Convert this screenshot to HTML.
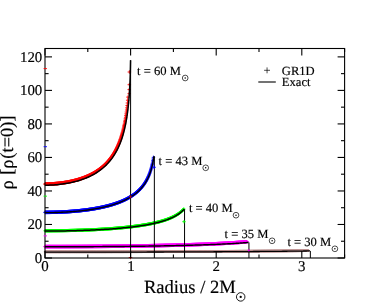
<!DOCTYPE html>
<html><head><meta charset="utf-8"><title>plot</title>
<style>
html,body{margin:0;padding:0;background:#fff;}
svg{display:block;will-change:transform;opacity:0.999}
text{font-family:"Liberation Serif",serif;fill:#000;text-rendering:geometricPrecision;stroke:#000;stroke-width:0.16px}
</style></head><body>
<svg width="387" height="303" viewBox="0 0 387 303">
<rect width="387" height="303" fill="#fff"/>
<g>
<defs><marker id="m60" markerUnits="userSpaceOnUse" markerWidth="5.5" markerHeight="5.5" refX="0" refY="0" viewBox="-2.75 -2.75 5.5 5.5" overflow="visible"><path d="M-1.75,0H1.75M0,-1.75V1.75" stroke="#ff0000" stroke-width="0.9" fill="none"/></marker><marker id="m43" markerUnits="userSpaceOnUse" markerWidth="5.4" markerHeight="5.4" refX="0" refY="0" viewBox="-2.7 -2.7 5.4 5.4" overflow="visible"><path d="M-1.7,0H1.7M0,-1.7V1.7" stroke="#0000ff" stroke-width="0.9" fill="none"/></marker><marker id="m40" markerUnits="userSpaceOnUse" markerWidth="5.1" markerHeight="5.1" refX="0" refY="0" viewBox="-2.55 -2.55 5.1 5.1" overflow="visible"><path d="M-1.55,0H1.55M0,-1.55V1.55" stroke="#00ff00" stroke-width="0.9" fill="none"/></marker><marker id="m35" markerUnits="userSpaceOnUse" markerWidth="5.5" markerHeight="5.5" refX="0" refY="0" viewBox="-2.75 -2.75 5.5 5.5" overflow="visible"><path d="M-1.75,0H1.75M0,-1.75V1.75" stroke="#ff00ff" stroke-width="0.9" fill="none"/></marker><marker id="m30" markerUnits="userSpaceOnUse" markerWidth="4.7" markerHeight="4.7" refX="0" refY="0" viewBox="-2.35 -2.35 4.7 4.7" overflow="visible"><path d="M-1.35,0H1.35M0,-1.35V1.35" stroke="#bc8f8f" stroke-width="0.9" fill="none"/></marker></defs>
<polyline points="45.13,184.05 45.38,184.05 45.64,184.05 45.89,184.04 46.15,184.04 46.40,184.04 46.65,184.04 46.91,184.03 47.16,184.03 47.42,184.03 47.67,184.02 47.93,184.02 48.18,184.01 48.44,184.00 48.69,184.00 48.95,183.99 49.20,183.98 49.46,183.97 49.71,183.96 49.96,183.96 50.22,183.95 50.47,183.94 50.73,183.92 50.98,183.91 51.24,183.90 51.49,183.89 51.75,183.88 52.00,183.86 52.26,183.85 52.51,183.84 52.77,183.82 53.02,183.81 53.27,183.79 53.53,183.77 53.78,183.76 54.04,183.74 54.29,183.72 54.55,183.70 54.80,183.69 55.06,183.67 55.31,183.65 55.57,183.63 55.82,183.61 56.07,183.58 56.33,183.56 56.58,183.54 56.84,183.52 57.09,183.49 57.35,183.47 57.60,183.45 57.86,183.42 58.11,183.40 58.36,183.37 58.62,183.34 58.87,183.32 59.13,183.29 59.38,183.26 59.64,183.23 59.89,183.20 60.15,183.17 60.40,183.14 60.65,183.11 60.91,183.08 61.16,183.05 61.42,183.02 61.67,182.98 61.93,182.95 62.18,182.92 62.43,182.88 62.69,182.85 62.94,182.81 63.20,182.78 63.45,182.74 63.71,182.70 63.96,182.66 64.21,182.63 64.47,182.59 64.72,182.55 64.98,182.51 65.23,182.47 65.49,182.42 65.74,182.38 65.99,182.34 66.25,182.30 66.50,182.25 66.76,182.21 67.01,182.16 67.27,182.12 67.52,182.07 67.77,182.02 68.03,181.98 68.28,181.93 68.54,181.88 68.79,181.83 69.04,181.78 69.30,181.73 69.55,181.68 69.81,181.63 70.06,181.57 70.31,181.52 70.57,181.47 70.82,181.41 71.08,181.36 71.33,181.30 71.58,181.25 71.84,181.19 72.09,181.13 72.35,181.07 72.60,181.01 72.85,180.95 73.11,180.89 73.36,180.83 73.62,180.77 73.87,180.71 74.12,180.64 74.38,180.58 74.63,180.51 74.88,180.45 75.14,180.38 75.39,180.32 75.65,180.25 75.90,180.18 76.15,180.11 76.41,180.04 76.66,179.97 76.91,179.90 77.17,179.83 77.42,179.75 77.68,179.68 77.93,179.60 78.18,179.53 78.44,179.45 78.69,179.37 78.94,179.30 79.20,179.22 79.45,179.14 79.70,179.06 79.96,178.98 80.21,178.89 80.46,178.81 80.72,178.73 80.97,178.64 81.22,178.56 81.48,178.47 81.73,178.38 81.98,178.29 82.24,178.20 82.49,178.11 82.74,178.02 83.00,177.93 83.25,177.84 83.50,177.74 83.76,177.65 84.01,177.55 84.26,177.45 84.51,177.35 84.77,177.26 85.02,177.16 85.27,177.05 85.53,176.95 85.78,176.85 86.03,176.74 86.29,176.64 86.54,176.53 86.79,176.42 87.04,176.32 87.30,176.21 87.55,176.09 87.80,175.98 88.05,175.87 88.31,175.75 88.56,175.64 88.81,175.52 89.07,175.40 89.32,175.28 89.57,175.16 89.82,175.04 90.08,174.92 90.33,174.79 90.58,174.67 90.83,174.54 91.09,174.41 91.34,174.28 91.59,174.15 91.84,174.02 92.10,173.89 92.35,173.75 92.60,173.61 92.85,173.48 93.10,173.34 93.36,173.20 93.61,173.05 93.86,172.91 94.11,172.76 94.37,172.62 94.62,172.47 94.87,172.32 95.12,172.16 95.37,172.01 95.63,171.85 95.88,171.70 96.13,171.54 96.38,171.38 96.63,171.21 96.88,171.05 97.14,170.88 97.39,170.72 97.64,170.55 97.89,170.37 98.14,170.20 98.40,170.03 98.65,169.85 98.90,169.67 99.15,169.49 99.40,169.30 99.65,169.12 99.91,168.93 100.16,168.74 100.41,168.54 100.66,168.35 100.91,168.15 101.16,167.95 101.42,167.75 101.67,167.55 101.92,167.34 102.17,167.13 102.42,166.92 102.67,166.70 102.92,166.48 103.18,166.26 103.43,166.04 103.68,165.82 103.93,165.59 104.18,165.36 104.43,165.12 104.68,164.88 104.94,164.64 105.19,164.40 105.44,164.15 105.69,163.90 105.94,163.65 106.19,163.39 106.44,163.13 106.69,162.87 106.95,162.60 107.20,162.33 107.45,162.05 107.70,161.77 107.95,161.49 108.20,161.20 108.45,160.91 108.71,160.61 108.96,160.31 109.21,160.01 109.46,159.70 109.71,159.39 109.96,159.07 110.22,158.74 110.47,158.42 110.72,158.08 110.97,157.74 111.22,157.40 111.47,157.05 111.73,156.69 111.98,156.33 112.23,155.96 112.48,155.59 112.73,155.21 112.98,154.82 113.24,154.43 113.49,154.03 113.74,153.62 113.99,153.20 114.24,152.78 114.50,152.35 114.75,151.91 115.00,151.46 115.25,151.01 115.51,150.54 115.76,150.07 116.01,149.58 116.26,149.09 116.52,148.58 116.77,148.07 117.02,147.54 117.27,147.01 117.53,146.46 117.78,145.90 118.03,145.32 118.29,144.74 118.54,144.13 118.79,143.52 119.04,142.89 119.30,142.24 119.55,141.58 119.81,140.90 120.06,140.20 120.31,139.48 120.57,138.74 120.82,137.99 121.07,137.21 121.33,136.40 121.58,135.57 121.84,134.72 122.09,133.84 122.34,132.93 122.60,131.99 122.85,131.01 123.11,130.00 123.36,128.96 123.62,127.87 123.87,126.74 124.12,125.56 124.38,124.33 124.63,123.05 124.89,121.71 125.14,120.30 125.40,118.82 125.66,117.25 125.91,115.60 126.17,113.85 126.42,111.98 126.68,109.99 126.93,107.84 127.19,105.52 127.44,102.99 127.70,100.21 127.96,97.11 129.20,93.70 129.25,89.60 129.30,84.70 129.35,72.00 130.50,196.80 130.50,257.50" fill="none" stroke="none" marker-start="url(#m60)" marker-mid="url(#m60)" marker-end="url(#m60)"/>
<polyline points="45.13,212.38 45.38,212.38 45.64,212.38 45.90,212.38 46.15,212.37 46.41,212.37 46.67,212.37 46.92,212.37 47.18,212.37 47.44,212.37 47.69,212.37 47.95,212.36 48.21,212.36 48.46,212.36 48.72,212.36 48.98,212.36 49.23,212.35 49.49,212.35 49.75,212.35 50.00,212.34 50.26,212.34 50.52,212.34 50.77,212.33 51.03,212.33 51.29,212.32 51.54,212.32 51.80,212.31 52.06,212.31 52.31,212.30 52.57,212.30 52.83,212.29 53.08,212.29 53.34,212.28 53.60,212.28 53.85,212.27 54.11,212.26 54.37,212.26 54.62,212.25 54.88,212.25 55.14,212.24 55.39,212.23 55.65,212.22 55.91,212.22 56.16,212.21 56.42,212.20 56.67,212.19 56.93,212.18 57.19,212.18 57.44,212.17 57.70,212.16 57.96,212.15 58.21,212.14 58.47,212.13 58.73,212.12 58.98,212.11 59.24,212.10 59.50,212.09 59.75,212.08 60.01,212.07 60.27,212.06 60.52,212.05 60.78,212.04 61.04,212.03 61.29,212.02 61.55,212.00 61.81,211.99 62.06,211.98 62.32,211.97 62.58,211.96 62.83,211.94 63.09,211.93 63.35,211.92 63.60,211.91 63.86,211.89 64.12,211.88 64.37,211.86 64.63,211.85 64.89,211.84 65.14,211.82 65.40,211.81 65.66,211.79 65.91,211.78 66.17,211.76 66.42,211.75 66.68,211.73 66.94,211.72 67.19,211.70 67.45,211.68 67.71,211.67 67.96,211.65 68.22,211.64 68.48,211.62 68.73,211.60 68.99,211.58 69.25,211.57 69.50,211.55 69.76,211.53 70.02,211.51 70.27,211.49 70.53,211.48 70.79,211.46 71.04,211.44 71.30,211.42 71.56,211.40 71.81,211.38 72.07,211.36 72.33,211.34 72.58,211.32 72.84,211.30 73.10,211.28 73.35,211.26 73.61,211.24 73.86,211.21 74.12,211.19 74.38,211.17 74.63,211.15 74.89,211.13 75.15,211.10 75.40,211.08 75.66,211.06 75.92,211.04 76.17,211.01 76.43,210.99 76.69,210.96 76.94,210.94 77.20,210.92 77.46,210.89 77.71,210.87 77.97,210.84 78.23,210.82 78.48,210.79 78.74,210.76 79.00,210.74 79.25,210.71 79.51,210.69 79.77,210.66 80.02,210.63 80.28,210.60 80.53,210.58 80.79,210.55 81.05,210.52 81.30,210.49 81.56,210.46 81.82,210.44 82.07,210.41 82.33,210.38 82.59,210.35 82.84,210.32 83.10,210.29 83.36,210.26 83.61,210.23 83.87,210.20 84.13,210.16 84.38,210.13 84.64,210.10 84.90,210.07 85.15,210.04 85.41,210.01 85.66,209.97 85.92,209.94 86.18,209.91 86.43,209.87 86.69,209.84 86.95,209.80 87.20,209.77 87.46,209.73 87.72,209.70 87.97,209.66 88.23,209.63 88.49,209.59 88.74,209.56 89.00,209.52 89.26,209.48 89.51,209.45 89.77,209.41 90.02,209.37 90.28,209.33 90.54,209.29 90.79,209.25 91.05,209.22 91.31,209.18 91.56,209.14 91.82,209.10 92.08,209.06 92.33,209.02 92.59,208.97 92.85,208.93 93.10,208.89 93.36,208.85 93.61,208.81 93.87,208.76 94.13,208.72 94.38,208.68 94.64,208.63 94.90,208.59 95.15,208.54 95.41,208.50 95.67,208.45 95.92,208.41 96.18,208.36 96.43,208.32 96.69,208.27 96.95,208.22 97.20,208.18 97.46,208.13 97.72,208.08 97.97,208.03 98.23,207.98 98.49,207.93 98.74,207.88 99.00,207.83 99.25,207.78 99.51,207.73 99.77,207.68 100.02,207.63 100.28,207.58 100.54,207.52 100.79,207.47 101.05,207.42 101.31,207.36 101.56,207.31 101.82,207.25 102.07,207.20 102.33,207.14 102.59,207.09 102.84,207.03 103.10,206.97 103.36,206.91 103.61,206.86 103.87,206.80 104.12,206.74 104.38,206.68 104.64,206.62 104.89,206.56 105.15,206.50 105.41,206.44 105.66,206.37 105.92,206.31 106.17,206.25 106.43,206.19 106.69,206.12 106.94,206.06 107.20,205.99 107.46,205.93 107.71,205.86 107.97,205.79 108.22,205.73 108.48,205.66 108.74,205.59 108.99,205.52 109.25,205.45 109.51,205.38 109.76,205.31 110.02,205.24 110.27,205.17 110.53,205.09 110.79,205.02 111.04,204.95 111.30,204.87 111.55,204.80 111.81,204.72 112.07,204.65 112.32,204.57 112.58,204.49 112.84,204.41 113.09,204.33 113.35,204.25 113.60,204.17 113.86,204.09 114.12,204.01 114.37,203.93 114.63,203.84 114.88,203.76 115.14,203.68 115.40,203.59 115.65,203.50 115.91,203.42 116.16,203.33 116.42,203.24 116.68,203.15 116.93,203.06 117.19,202.97 117.44,202.88 117.70,202.78 117.96,202.69 118.21,202.60 118.47,202.50 118.72,202.40 118.98,202.31 119.24,202.21 119.49,202.11 119.75,202.01 120.00,201.91 120.26,201.81 120.52,201.70 120.77,201.60 121.03,201.50 121.28,201.39 121.54,201.28 121.79,201.17 122.05,201.07 122.31,200.96 122.56,200.84 122.82,200.73 123.07,200.62 123.33,200.50 123.58,200.39 123.84,200.27 124.10,200.15 124.35,200.03 124.61,199.91 124.86,199.79 125.12,199.67 125.37,199.54 125.63,199.42 125.89,199.29 126.14,199.16 126.40,199.03 126.65,198.90 126.91,198.77 127.16,198.63 127.42,198.50 127.68,198.36 127.93,198.22 128.19,198.08 128.44,197.94 128.70,197.79 128.95,197.65 129.21,197.50 129.46,197.35 129.72,197.20 129.97,197.05 130.23,196.90 130.49,196.74 130.74,196.58 131.00,196.42 131.25,196.26 131.51,196.10 131.76,195.93 132.02,195.76 132.27,195.59 132.53,195.42 132.78,195.25 133.04,195.07 133.29,194.89 133.55,194.71 133.81,194.53 134.06,194.34 134.32,194.15 134.57,193.96 134.83,193.77 135.08,193.57 135.34,193.37 135.59,193.17 135.85,192.97 136.10,192.76 136.36,192.55 136.61,192.33 136.87,192.12 137.12,191.89 137.38,191.67 137.63,191.44 137.89,191.21 138.14,190.98 138.40,190.74 138.65,190.50 138.91,190.25 139.16,190.00 139.42,189.75 139.67,189.49 139.93,189.22 140.18,188.96 140.44,188.68 140.69,188.41 140.95,188.12 141.20,187.83 141.46,187.54 141.71,187.24 141.97,186.94 142.22,186.63 142.48,186.31 142.73,185.99 142.99,185.66 143.24,185.32 143.50,184.98 143.75,184.62 144.01,184.27 144.26,183.90 144.52,183.52 144.77,183.14 145.03,182.74 145.28,182.34 145.54,181.93 145.79,181.50 146.05,181.07 146.30,180.62 146.56,180.16 146.81,179.69 147.07,179.20 147.32,178.71 147.58,178.19 147.83,177.66 148.09,177.11 148.34,176.54 148.60,175.96 148.86,175.35 149.11,174.72 149.37,174.07 149.62,173.39 149.88,172.69 150.13,171.95 150.39,171.18 150.64,170.38 150.90,169.53 151.15,168.64 151.41,167.70 151.67,166.71 151.92,165.66 152.18,164.53 152.43,163.32 152.69,162.02 152.95,160.60 153.20,159.05 153.46,157.32" fill="none" stroke="none" marker-start="url(#m43)" marker-mid="url(#m43)" marker-end="url(#m43)"/>
<polyline points="45.13,230.76 45.39,230.76 45.64,230.76 45.90,230.76 46.16,230.76 46.41,230.76 46.67,230.76 46.93,230.76 47.18,230.76 47.44,230.76 47.70,230.76 47.95,230.76 48.21,230.76 48.47,230.76 48.72,230.76 48.98,230.76 49.24,230.76 49.49,230.76 49.75,230.75 50.01,230.75 50.26,230.75 50.52,230.75 50.78,230.75 51.03,230.75 51.29,230.75 51.55,230.75 51.80,230.74 52.06,230.74 52.32,230.74 52.57,230.74 52.83,230.74 53.09,230.74 53.34,230.73 53.60,230.73 53.86,230.73 54.11,230.73 54.37,230.73 54.63,230.72 54.88,230.72 55.14,230.72 55.40,230.72 55.65,230.72 55.91,230.71 56.17,230.71 56.42,230.71 56.68,230.71 56.94,230.70 57.19,230.70 57.45,230.70 57.71,230.69 57.97,230.69 58.22,230.69 58.48,230.69 58.74,230.68 58.99,230.68 59.25,230.68 59.51,230.67 59.76,230.67 60.02,230.67 60.28,230.66 60.53,230.66 60.79,230.66 61.05,230.65 61.30,230.65 61.56,230.65 61.82,230.64 62.07,230.64 62.33,230.63 62.59,230.63 62.84,230.63 63.10,230.62 63.36,230.62 63.61,230.61 63.87,230.61 64.13,230.61 64.38,230.60 64.64,230.60 64.90,230.59 65.15,230.59 65.41,230.58 65.67,230.58 65.92,230.57 66.18,230.57 66.44,230.57 66.69,230.56 66.95,230.56 67.21,230.55 67.46,230.55 67.72,230.54 67.98,230.54 68.23,230.53 68.49,230.52 68.75,230.52 69.00,230.51 69.26,230.51 69.52,230.50 69.77,230.50 70.03,230.49 70.29,230.49 70.54,230.48 70.80,230.47 71.06,230.47 71.31,230.46 71.57,230.46 71.83,230.45 72.09,230.44 72.34,230.44 72.60,230.43 72.86,230.43 73.11,230.42 73.37,230.41 73.63,230.41 73.88,230.40 74.14,230.39 74.40,230.39 74.65,230.38 74.91,230.37 75.17,230.37 75.42,230.36 75.68,230.35 75.94,230.34 76.19,230.34 76.45,230.33 76.71,230.32 76.96,230.31 77.22,230.31 77.48,230.30 77.73,230.29 77.99,230.28 78.25,230.28 78.50,230.27 78.76,230.26 79.02,230.25 79.27,230.25 79.53,230.24 79.79,230.23 80.04,230.22 80.30,230.21 80.56,230.20 80.81,230.20 81.07,230.19 81.33,230.18 81.58,230.17 81.84,230.16 82.10,230.15 82.35,230.14 82.61,230.14 82.87,230.13 83.12,230.12 83.38,230.11 83.64,230.10 83.89,230.09 84.15,230.08 84.41,230.07 84.66,230.06 84.92,230.05 85.18,230.04 85.43,230.03 85.69,230.02 85.95,230.01 86.20,230.00 86.46,229.99 86.72,229.98 86.97,229.97 87.23,229.96 87.49,229.95 87.75,229.94 88.00,229.93 88.26,229.92 88.52,229.91 88.77,229.90 89.03,229.89 89.29,229.88 89.54,229.87 89.80,229.86 90.06,229.85 90.31,229.83 90.57,229.82 90.83,229.81 91.08,229.80 91.34,229.79 91.60,229.78 91.85,229.77 92.11,229.75 92.37,229.74 92.62,229.73 92.88,229.72 93.14,229.71 93.39,229.69 93.65,229.68 93.91,229.67 94.16,229.66 94.42,229.65 94.68,229.63 94.93,229.62 95.19,229.61 95.45,229.60 95.70,229.58 95.96,229.57 96.22,229.56 96.47,229.54 96.73,229.53 96.99,229.52 97.24,229.50 97.50,229.49 97.76,229.48 98.01,229.46 98.27,229.45 98.53,229.44 98.78,229.42 99.04,229.41 99.30,229.39 99.55,229.38 99.81,229.37 100.07,229.35 100.32,229.34 100.58,229.32 100.84,229.31 101.09,229.29 101.35,229.28 101.61,229.26 101.86,229.25 102.12,229.23 102.38,229.22 102.63,229.20 102.89,229.19 103.15,229.17 103.40,229.16 103.66,229.14 103.92,229.13 104.17,229.11 104.43,229.09 104.69,229.08 104.94,229.06 105.20,229.05 105.46,229.03 105.71,229.01 105.97,229.00 106.23,228.98 106.48,228.96 106.74,228.95 107.00,228.93 107.25,228.91 107.51,228.89 107.77,228.88 108.02,228.86 108.28,228.84 108.54,228.82 108.79,228.81 109.05,228.79 109.31,228.77 109.56,228.75 109.82,228.74 110.08,228.72 110.33,228.70 110.59,228.68 110.85,228.66 111.10,228.64 111.36,228.62 111.62,228.61 111.87,228.59 112.13,228.57 112.39,228.55 112.64,228.53 112.90,228.51 113.16,228.49 113.41,228.47 113.67,228.45 113.93,228.43 114.18,228.41 114.44,228.39 114.70,228.37 114.95,228.35 115.21,228.33 115.47,228.31 115.72,228.29 115.98,228.27 116.24,228.24 116.49,228.22 116.75,228.20 117.01,228.18 117.26,228.16 117.52,228.14 117.78,228.12 118.03,228.09 118.29,228.07 118.55,228.05 118.80,228.03 119.06,228.00 119.32,227.98 119.57,227.96 119.83,227.94 120.09,227.91 120.34,227.89 120.60,227.87 120.86,227.84 121.11,227.82 121.37,227.80 121.63,227.77 121.88,227.75 122.14,227.72 122.40,227.70 122.65,227.67 122.91,227.65 123.17,227.62 123.42,227.60 123.68,227.57 123.94,227.55 124.19,227.52 124.45,227.50 124.71,227.47 124.96,227.45 125.22,227.42 125.48,227.39 125.73,227.37 125.99,227.34 126.25,227.31 126.50,227.29 126.76,227.26 127.02,227.23 127.27,227.21 127.53,227.18 127.79,227.15 128.04,227.12 128.30,227.09 128.56,227.07 128.81,227.04 129.07,227.01 129.33,226.98 129.58,226.95 129.84,226.92 130.09,226.89 130.35,226.86 130.61,226.83 130.86,226.80 131.12,226.77 131.38,226.74 131.63,226.71 131.89,226.68 132.15,226.65 132.40,226.62 132.66,226.59 132.92,226.56 133.17,226.53 133.43,226.49 133.69,226.46 133.94,226.43 134.20,226.40 134.46,226.36 134.71,226.33 134.97,226.30 135.23,226.26 135.48,226.23 135.74,226.20 136.00,226.16 136.25,226.13 136.51,226.09 136.77,226.06 137.02,226.02 137.28,225.99 137.54,225.95 137.79,225.92 138.05,225.88 138.30,225.85 138.56,225.81 138.82,225.77 139.07,225.74 139.33,225.70 139.59,225.66 139.84,225.62 140.10,225.59 140.36,225.55 140.61,225.51 140.87,225.47 141.13,225.43 141.38,225.39 141.64,225.35 141.90,225.31 142.15,225.27 142.41,225.23 142.67,225.19 142.92,225.15 143.18,225.11 143.43,225.07 143.69,225.03 143.95,224.99 144.20,224.94 144.46,224.90 144.72,224.86 144.97,224.81 145.23,224.77 145.49,224.73 145.74,224.68 146.00,224.64 146.26,224.59 146.51,224.55 146.77,224.50 147.02,224.46 147.28,224.41 147.54,224.36 147.79,224.32 148.05,224.27 148.31,224.22 148.56,224.17 148.82,224.13 149.08,224.08 149.33,224.03 149.59,223.98 149.85,223.93 150.10,223.88 150.36,223.83 150.61,223.78 150.87,223.73 151.13,223.67 151.38,223.62 151.64,223.57 151.90,223.52 152.15,223.46 152.41,223.41 152.67,223.35 152.92,223.30 153.18,223.24 153.43,223.19 153.69,223.13 153.95,223.07 154.20,223.02 154.46,222.96 154.72,222.90 154.97,222.84 155.23,222.78 155.48,222.72 155.74,222.66 156.00,222.60 156.25,222.54 156.51,222.48 156.77,222.42 157.02,222.36 157.28,222.29 157.53,222.23 157.79,222.17 158.05,222.10 158.30,222.03 158.56,221.97 158.81,221.90 159.07,221.83 159.33,221.77 159.58,221.70 159.84,221.63 160.10,221.56 160.35,221.49 160.61,221.42 160.86,221.35 161.12,221.27 161.38,221.20 161.63,221.13 161.89,221.05 162.14,220.98 162.40,220.90 162.66,220.82 162.91,220.74 163.17,220.67 163.42,220.59 163.68,220.51 163.94,220.43 164.19,220.34 164.45,220.26 164.70,220.18 164.96,220.09 165.22,220.01 165.47,219.92 165.73,219.83 165.98,219.75 166.24,219.66 166.49,219.57 166.75,219.48 167.01,219.38 167.26,219.29 167.52,219.20 167.77,219.10 168.03,219.01 168.29,218.91 168.54,218.81 168.80,218.71 169.05,218.61 169.31,218.51 169.56,218.40 169.82,218.30 170.07,218.19 170.33,218.09 170.59,217.98 170.84,217.87 171.10,217.75 171.35,217.64 171.61,217.53 171.86,217.41 172.12,217.29 172.37,217.17 172.63,217.05 172.88,216.93 173.14,216.81 173.39,216.68 173.65,216.55 173.91,216.42 174.16,216.29 174.42,216.16 174.67,216.02 174.93,215.89 175.18,215.75 175.44,215.60 175.69,215.46 175.95,215.31 176.20,215.16 176.46,215.01 176.71,214.86 176.97,214.70 177.22,214.54 177.48,214.38 177.73,214.22 177.98,214.05 178.24,213.88 178.49,213.70 178.75,213.53 179.00,213.34 179.26,213.16 179.51,212.97 179.77,212.78 180.02,212.58 180.28,212.38 180.53,212.18 180.78,211.97 181.04,211.76 181.29,211.54 181.55,211.32 181.80,211.09 182.05,210.85 182.31,210.61 182.56,210.37 182.82,210.11 183.07,209.85 183.32,209.59 183.58,209.31 183.83,209.03" fill="none" stroke="none" marker-start="url(#m40)" marker-mid="url(#m40)" marker-end="url(#m40)"/>
<polyline points="45.13,246.60 45.39,246.60 45.64,246.60 45.90,246.60 46.16,246.60 46.41,246.60 46.67,246.60 46.93,246.60 47.18,246.60 47.44,246.60 47.70,246.60 47.95,246.60 48.21,246.60 48.47,246.60 48.72,246.60 48.98,246.59 49.24,246.59 49.49,246.59 49.75,246.59 50.01,246.59 50.26,246.59 50.52,246.59 50.78,246.59 51.03,246.59 51.29,246.59 51.55,246.59 51.81,246.59 52.06,246.59 52.32,246.59 52.58,246.59 52.83,246.59 53.09,246.59 53.35,246.59 53.60,246.59 53.86,246.59 54.12,246.59 54.37,246.59 54.63,246.59 54.89,246.59 55.14,246.59 55.40,246.59 55.66,246.59 55.91,246.59 56.17,246.59 56.43,246.59 56.68,246.59 56.94,246.59 57.20,246.59 57.45,246.58 57.71,246.58 57.97,246.58 58.22,246.58 58.48,246.58 58.74,246.58 59.00,246.58 59.25,246.58 59.51,246.58 59.77,246.58 60.02,246.58 60.28,246.58 60.54,246.58 60.79,246.58 61.05,246.58 61.31,246.58 61.56,246.58 61.82,246.58 62.08,246.58 62.33,246.57 62.59,246.57 62.85,246.57 63.10,246.57 63.36,246.57 63.62,246.57 63.87,246.57 64.13,246.57 64.39,246.57 64.64,246.57 64.90,246.57 65.16,246.57 65.42,246.57 65.67,246.57 65.93,246.56 66.19,246.56 66.44,246.56 66.70,246.56 66.96,246.56 67.21,246.56 67.47,246.56 67.73,246.56 67.98,246.56 68.24,246.56 68.50,246.56 68.75,246.56 69.01,246.55 69.27,246.55 69.52,246.55 69.78,246.55 70.04,246.55 70.29,246.55 70.55,246.55 70.81,246.55 71.06,246.55 71.32,246.55 71.58,246.54 71.83,246.54 72.09,246.54 72.35,246.54 72.61,246.54 72.86,246.54 73.12,246.54 73.38,246.54 73.63,246.54 73.89,246.54 74.15,246.53 74.40,246.53 74.66,246.53 74.92,246.53 75.17,246.53 75.43,246.53 75.69,246.53 75.94,246.53 76.20,246.53 76.46,246.52 76.71,246.52 76.97,246.52 77.23,246.52 77.48,246.52 77.74,246.52 78.00,246.52 78.25,246.52 78.51,246.51 78.77,246.51 79.03,246.51 79.28,246.51 79.54,246.51 79.80,246.51 80.05,246.51 80.31,246.51 80.57,246.50 80.82,246.50 81.08,246.50 81.34,246.50 81.59,246.50 81.85,246.50 82.11,246.50 82.36,246.49 82.62,246.49 82.88,246.49 83.13,246.49 83.39,246.49 83.65,246.49 83.90,246.49 84.16,246.48 84.42,246.48 84.67,246.48 84.93,246.48 85.19,246.48 85.45,246.48 85.70,246.48 85.96,246.47 86.22,246.47 86.47,246.47 86.73,246.47 86.99,246.47 87.24,246.47 87.50,246.46 87.76,246.46 88.01,246.46 88.27,246.46 88.53,246.46 88.78,246.46 89.04,246.45 89.30,246.45 89.55,246.45 89.81,246.45 90.07,246.45 90.32,246.45 90.58,246.44 90.84,246.44 91.09,246.44 91.35,246.44 91.61,246.44 91.86,246.44 92.12,246.43 92.38,246.43 92.64,246.43 92.89,246.43 93.15,246.43 93.41,246.42 93.66,246.42 93.92,246.42 94.18,246.42 94.43,246.42 94.69,246.41 94.95,246.41 95.20,246.41 95.46,246.41 95.72,246.41 95.97,246.41 96.23,246.40 96.49,246.40 96.74,246.40 97.00,246.40 97.26,246.40 97.51,246.39 97.77,246.39 98.03,246.39 98.28,246.39 98.54,246.38 98.80,246.38 99.06,246.38 99.31,246.38 99.57,246.38 99.83,246.37 100.08,246.37 100.34,246.37 100.60,246.37 100.85,246.37 101.11,246.36 101.37,246.36 101.62,246.36 101.88,246.36 102.14,246.35 102.39,246.35 102.65,246.35 102.91,246.35 103.16,246.35 103.42,246.34 103.68,246.34 103.93,246.34 104.19,246.34 104.45,246.33 104.70,246.33 104.96,246.33 105.22,246.33 105.47,246.32 105.73,246.32 105.99,246.32 106.25,246.32 106.50,246.32 106.76,246.31 107.02,246.31 107.27,246.31 107.53,246.31 107.79,246.30 108.04,246.30 108.30,246.30 108.56,246.30 108.81,246.29 109.07,246.29 109.33,246.29 109.58,246.29 109.84,246.28 110.10,246.28 110.35,246.28 110.61,246.28 110.87,246.27 111.12,246.27 111.38,246.27 111.64,246.26 111.89,246.26 112.15,246.26 112.41,246.26 112.67,246.25 112.92,246.25 113.18,246.25 113.44,246.25 113.69,246.24 113.95,246.24 114.21,246.24 114.46,246.23 114.72,246.23 114.98,246.23 115.23,246.23 115.49,246.22 115.75,246.22 116.00,246.22 116.26,246.21 116.52,246.21 116.77,246.21 117.03,246.21 117.29,246.20 117.54,246.20 117.80,246.20 118.06,246.19 118.31,246.19 118.57,246.19 118.83,246.19 119.08,246.18 119.34,246.18 119.60,246.18 119.86,246.17 120.11,246.17 120.37,246.17 120.63,246.16 120.88,246.16 121.14,246.16 121.40,246.16 121.65,246.15 121.91,246.15 122.17,246.15 122.42,246.14 122.68,246.14 122.94,246.14 123.19,246.13 123.45,246.13 123.71,246.13 123.96,246.12 124.22,246.12 124.48,246.12 124.73,246.11 124.99,246.11 125.25,246.11 125.50,246.10 125.76,246.10 126.02,246.10 126.28,246.09 126.53,246.09 126.79,246.09 127.05,246.08 127.30,246.08 127.56,246.08 127.82,246.07 128.07,246.07 128.33,246.07 128.59,246.06 128.84,246.06 129.10,246.06 129.36,246.05 129.61,246.05 129.87,246.05 130.13,246.04 130.38,246.04 130.64,246.03 130.90,246.03 131.15,246.03 131.41,246.02 131.67,246.02 131.92,246.02 132.18,246.01 132.44,246.01 132.69,246.01 132.95,246.00 133.21,246.00 133.47,245.99 133.72,245.99 133.98,245.99 134.24,245.98 134.49,245.98 134.75,245.98 135.01,245.97 135.26,245.97 135.52,245.96 135.78,245.96 136.03,245.96 136.29,245.95 136.55,245.95 136.80,245.94 137.06,245.94 137.32,245.94 137.57,245.93 137.83,245.93 138.09,245.92 138.34,245.92 138.60,245.92 138.86,245.91 139.11,245.91 139.37,245.90 139.63,245.90 139.88,245.90 140.14,245.89 140.40,245.89 140.66,245.88 140.91,245.88 141.17,245.88 141.43,245.87 141.68,245.87 141.94,245.86 142.20,245.86 142.45,245.86 142.71,245.85 142.97,245.85 143.22,245.84 143.48,245.84 143.74,245.83 143.99,245.83 144.25,245.82 144.51,245.82 144.76,245.82 145.02,245.81 145.28,245.81 145.53,245.80 145.79,245.80 146.05,245.79 146.30,245.79 146.56,245.79 146.82,245.78 147.08,245.78 147.33,245.77 147.59,245.77 147.85,245.76 148.10,245.76 148.36,245.75 148.62,245.75 148.87,245.74 149.13,245.74 149.39,245.73 149.64,245.73 149.90,245.73 150.16,245.72 150.41,245.72 150.67,245.71 150.93,245.71 151.18,245.70 151.44,245.70 151.70,245.69 151.95,245.69 152.21,245.68 152.47,245.68 152.72,245.67 152.98,245.67 153.24,245.66 153.49,245.66 153.75,245.65 154.01,245.65 154.27,245.64 154.52,245.64 154.78,245.63 155.04,245.63 155.29,245.62 155.55,245.62 155.81,245.61 156.06,245.61 156.32,245.60 156.58,245.60 156.83,245.59 157.09,245.59 157.35,245.58 157.60,245.58 157.86,245.57 158.12,245.57 158.37,245.56 158.63,245.56 158.89,245.55 159.14,245.55 159.40,245.54 159.66,245.53 159.91,245.53 160.17,245.52 160.43,245.52 160.68,245.51 160.94,245.51 161.20,245.50 161.46,245.50 161.71,245.49 161.97,245.49 162.23,245.48 162.48,245.47 162.74,245.47 163.00,245.46 163.25,245.46 163.51,245.45 163.77,245.45 164.02,245.44 164.28,245.43 164.54,245.43 164.79,245.42 165.05,245.42 165.31,245.41 165.56,245.41 165.82,245.40 166.08,245.39 166.33,245.39 166.59,245.38 166.85,245.38 167.10,245.37 167.36,245.36 167.62,245.36 167.87,245.35 168.13,245.35 168.39,245.34 168.65,245.33 168.90,245.33 169.16,245.32 169.42,245.32 169.67,245.31 169.93,245.30 170.19,245.30 170.44,245.29 170.70,245.29 170.96,245.28 171.21,245.27 171.47,245.27 171.73,245.26 171.98,245.25 172.24,245.25 172.50,245.24 172.75,245.24 173.01,245.23 173.27,245.22 173.52,245.22 173.78,245.21 174.04,245.20 174.29,245.20 174.55,245.19 174.81,245.18 175.06,245.18 175.32,245.17 175.58,245.16 175.84,245.16 176.09,245.15 176.35,245.14 176.61,245.14 176.86,245.13 177.12,245.12 177.38,245.12 177.63,245.11 177.89,245.10 178.15,245.10 178.40,245.09 178.66,245.08 178.92,245.07 179.17,245.07 179.43,245.06 179.69,245.05 179.94,245.05 180.20,245.04 180.46,245.03 180.71,245.03 180.97,245.02 181.23,245.01 181.48,245.00 181.74,245.00 182.00,244.99 182.25,244.98 182.51,244.98 182.77,244.97 183.03,244.96 183.28,244.95 183.54,244.95 183.80,244.94 184.05,244.93 184.31,244.92 184.57,244.92 184.82,244.91 185.08,244.90 185.34,244.89 185.59,244.89 185.85,244.88 186.11,244.87 186.36,244.86 186.62,244.85 186.88,244.85 187.13,244.84 187.39,244.83 187.65,244.82 187.90,244.82 188.16,244.81 188.42,244.80 188.67,244.79 188.93,244.78 189.19,244.78 189.44,244.77 189.70,244.76 189.96,244.75 190.21,244.74 190.47,244.74 190.73,244.73 190.99,244.72 191.24,244.71 191.50,244.70 191.76,244.69 192.01,244.69 192.27,244.68 192.53,244.67 192.78,244.66 193.04,244.65 193.30,244.64 193.55,244.64 193.81,244.63 194.07,244.62 194.32,244.61 194.58,244.60 194.84,244.59 195.09,244.58 195.35,244.57 195.61,244.57 195.86,244.56 196.12,244.55 196.38,244.54 196.63,244.53 196.89,244.52 197.15,244.51 197.40,244.50 197.66,244.49 197.92,244.49 198.17,244.48 198.43,244.47 198.69,244.46 198.95,244.45 199.20,244.44 199.46,244.43 199.72,244.42 199.97,244.41 200.23,244.40 200.49,244.39 200.74,244.38 201.00,244.37 201.26,244.36 201.51,244.35 201.77,244.34 202.03,244.34 202.28,244.33 202.54,244.32 202.80,244.31 203.05,244.30 203.31,244.29 203.57,244.28 203.82,244.27 204.08,244.26 204.34,244.25 204.59,244.24 204.85,244.23 205.11,244.22 205.36,244.21 205.62,244.20 205.88,244.19 206.13,244.18 206.39,244.16 206.65,244.15 206.91,244.14 207.16,244.13 207.42,244.12 207.68,244.11 207.93,244.10 208.19,244.09 208.45,244.08 208.70,244.07 208.96,244.06 209.22,244.05 209.47,244.04 209.73,244.03 209.99,244.02 210.24,244.00 210.50,243.99 210.76,243.98 211.01,243.97 211.27,243.96 211.53,243.95 211.78,243.94 212.04,243.93 212.30,243.92 212.55,243.90 212.81,243.89 213.07,243.88 213.32,243.87 213.58,243.86 213.84,243.85 214.09,243.83 214.35,243.82 214.61,243.81 214.86,243.80 215.12,243.79 215.38,243.78 215.64,243.76 215.89,243.75 216.15,243.74 216.41,243.73 216.66,243.71 216.92,243.70 217.18,243.69 217.43,243.68 217.69,243.67 217.95,243.65 218.20,243.64 218.46,243.63 218.72,243.62 218.97,243.60 219.23,243.59 219.49,243.58 219.74,243.56 220.00,243.55 220.26,243.54 220.51,243.53 220.77,243.51 221.03,243.50 221.28,243.49 221.54,243.47 221.80,243.46 222.05,243.45 222.31,243.43 222.57,243.42 222.82,243.40 223.08,243.39 223.34,243.38 223.59,243.36 223.85,243.35 224.11,243.34 224.36,243.32 224.62,243.31 224.88,243.29 225.14,243.28 225.39,243.27 225.65,243.25 225.91,243.24 226.16,243.22 226.42,243.21 226.68,243.19 226.93,243.18 227.19,243.16 227.45,243.15 227.70,243.13 227.96,243.12 228.22,243.10 228.47,243.09 228.73,243.07 228.99,243.06 229.24,243.04 229.50,243.03 229.76,243.01 230.01,243.00 230.27,242.98 230.53,242.96 230.78,242.95 231.04,242.93 231.30,242.92 231.55,242.90 231.81,242.88 232.07,242.87 232.32,242.85 232.58,242.84 232.84,242.82 233.09,242.80 233.35,242.79 233.61,242.77 233.86,242.75 234.12,242.74 234.38,242.72 234.63,242.70 234.89,242.68 235.15,242.67 235.40,242.65 235.66,242.63 235.92,242.61 236.17,242.60 236.43,242.58 236.69,242.56 236.95,242.54 237.20,242.52 237.46,242.51 237.72,242.49 237.97,242.47 238.23,242.45 238.49,242.43 238.74,242.41 239.00,242.39 239.26,242.38 239.51,242.36 239.77,242.34 240.03,242.32 240.28,242.30 240.54,242.28 240.80,242.26 241.05,242.24 241.31,242.22 241.57,242.20 241.82,242.18 242.08,242.16 242.34,242.14 242.59,242.12 242.85,242.10 243.11,242.08 243.36,242.06 243.62,242.03 243.88,242.01 244.13,241.99 244.39,241.97 244.65,241.95 244.90,241.93 245.16,241.91 245.42,241.88 245.67,241.86 245.93,241.84 246.19,241.82 246.44,241.79 246.70,241.77 246.96,241.75" fill="none" stroke="none" marker-start="url(#m35)" marker-mid="url(#m35)" marker-end="url(#m35)"/>
<polyline points="45.13,251.80 45.39,251.80 45.64,251.80 45.90,251.80 46.16,251.80 46.41,251.80 46.67,251.80 46.93,251.80 47.18,251.80 47.44,251.80 47.70,251.80 47.95,251.80 48.21,251.80 48.47,251.80 48.72,251.80 48.98,251.80 49.24,251.80 49.49,251.80 49.75,251.80 50.01,251.80 50.26,251.80 50.52,251.80 50.78,251.80 51.03,251.80 51.29,251.80 51.55,251.80 51.81,251.80 52.06,251.80 52.32,251.80 52.58,251.80 52.83,251.80 53.09,251.80 53.35,251.80 53.60,251.80 53.86,251.80 54.12,251.80 54.37,251.80 54.63,251.80 54.89,251.80 55.14,251.80 55.40,251.80 55.66,251.80 55.91,251.80 56.17,251.80 56.43,251.80 56.68,251.80 56.94,251.80 57.20,251.80 57.45,251.80 57.71,251.80 57.97,251.80 58.23,251.80 58.48,251.80 58.74,251.80 59.00,251.80 59.25,251.80 59.51,251.80 59.77,251.80 60.02,251.80 60.28,251.80 60.54,251.80 60.79,251.80 61.05,251.80 61.31,251.80 61.56,251.79 61.82,251.79 62.08,251.79 62.33,251.79 62.59,251.79 62.85,251.79 63.10,251.79 63.36,251.79 63.62,251.79 63.87,251.79 64.13,251.79 64.39,251.79 64.65,251.79 64.90,251.79 65.16,251.79 65.42,251.79 65.67,251.79 65.93,251.79 66.19,251.79 66.44,251.79 66.70,251.79 66.96,251.79 67.21,251.79 67.47,251.79 67.73,251.79 67.98,251.79 68.24,251.79 68.50,251.79 68.75,251.79 69.01,251.79 69.27,251.79 69.52,251.79 69.78,251.79 70.04,251.79 70.29,251.79 70.55,251.79 70.81,251.79 71.06,251.79 71.32,251.79 71.58,251.79 71.84,251.79 72.09,251.79 72.35,251.79 72.61,251.79 72.86,251.79 73.12,251.79 73.38,251.79 73.63,251.79 73.89,251.79 74.15,251.79 74.40,251.79 74.66,251.79 74.92,251.79 75.17,251.79 75.43,251.79 75.69,251.79 75.94,251.79 76.20,251.79 76.46,251.79 76.71,251.79 76.97,251.79 77.23,251.79 77.48,251.79 77.74,251.79 78.00,251.79 78.26,251.79 78.51,251.79 78.77,251.79 79.03,251.78 79.28,251.78 79.54,251.78 79.80,251.78 80.05,251.78 80.31,251.78 80.57,251.78 80.82,251.78 81.08,251.78 81.34,251.78 81.59,251.78 81.85,251.78 82.11,251.78 82.36,251.78 82.62,251.78 82.88,251.78 83.13,251.78 83.39,251.78 83.65,251.78 83.90,251.78 84.16,251.78 84.42,251.78 84.68,251.78 84.93,251.78 85.19,251.78 85.45,251.78 85.70,251.78 85.96,251.78 86.22,251.78 86.47,251.78 86.73,251.78 86.99,251.78 87.24,251.78 87.50,251.78 87.76,251.78 88.01,251.78 88.27,251.78 88.53,251.78 88.78,251.78 89.04,251.78 89.30,251.78 89.55,251.78 89.81,251.77 90.07,251.77 90.32,251.77 90.58,251.77 90.84,251.77 91.10,251.77 91.35,251.77 91.61,251.77 91.87,251.77 92.12,251.77 92.38,251.77 92.64,251.77 92.89,251.77 93.15,251.77 93.41,251.77 93.66,251.77 93.92,251.77 94.18,251.77 94.43,251.77 94.69,251.77 94.95,251.77 95.20,251.77 95.46,251.77 95.72,251.77 95.97,251.77 96.23,251.77 96.49,251.77 96.74,251.77 97.00,251.77 97.26,251.77 97.52,251.77 97.77,251.77 98.03,251.77 98.29,251.77 98.54,251.76 98.80,251.76 99.06,251.76 99.31,251.76 99.57,251.76 99.83,251.76 100.08,251.76 100.34,251.76 100.60,251.76 100.85,251.76 101.11,251.76 101.37,251.76 101.62,251.76 101.88,251.76 102.14,251.76 102.39,251.76 102.65,251.76 102.91,251.76 103.16,251.76 103.42,251.76 103.68,251.76 103.94,251.76 104.19,251.76 104.45,251.76 104.71,251.76 104.96,251.76 105.22,251.76 105.48,251.76 105.73,251.76 105.99,251.75 106.25,251.75 106.50,251.75 106.76,251.75 107.02,251.75 107.27,251.75 107.53,251.75 107.79,251.75 108.04,251.75 108.30,251.75 108.56,251.75 108.81,251.75 109.07,251.75 109.33,251.75 109.58,251.75 109.84,251.75 110.10,251.75 110.36,251.75 110.61,251.75 110.87,251.75 111.13,251.75 111.38,251.75 111.64,251.75 111.90,251.75 112.15,251.75 112.41,251.75 112.67,251.74 112.92,251.74 113.18,251.74 113.44,251.74 113.69,251.74 113.95,251.74 114.21,251.74 114.46,251.74 114.72,251.74 114.98,251.74 115.23,251.74 115.49,251.74 115.75,251.74 116.00,251.74 116.26,251.74 116.52,251.74 116.77,251.74 117.03,251.74 117.29,251.74 117.55,251.74 117.80,251.74 118.06,251.74 118.32,251.74 118.57,251.73 118.83,251.73 119.09,251.73 119.34,251.73 119.60,251.73 119.86,251.73 120.11,251.73 120.37,251.73 120.63,251.73 120.88,251.73 121.14,251.73 121.40,251.73 121.65,251.73 121.91,251.73 122.17,251.73 122.42,251.73 122.68,251.73 122.94,251.73 123.19,251.73 123.45,251.73 123.71,251.73 123.97,251.72 124.22,251.72 124.48,251.72 124.74,251.72 124.99,251.72 125.25,251.72 125.51,251.72 125.76,251.72 126.02,251.72 126.28,251.72 126.53,251.72 126.79,251.72 127.05,251.72 127.30,251.72 127.56,251.72 127.82,251.72 128.07,251.72 128.33,251.72 128.59,251.72 128.84,251.72 129.10,251.71 129.36,251.71 129.61,251.71 129.87,251.71 130.13,251.71 130.39,251.71 130.64,251.71 130.90,251.71 131.16,251.71 131.41,251.71 131.67,251.71 131.93,251.71 132.18,251.71 132.44,251.71 132.70,251.71 132.95,251.71 133.21,251.71 133.47,251.71 133.72,251.71 133.98,251.70 134.24,251.70 134.49,251.70 134.75,251.70 135.01,251.70 135.26,251.70 135.52,251.70 135.78,251.70 136.03,251.70 136.29,251.70 136.55,251.70 136.81,251.70 137.06,251.70 137.32,251.70 137.58,251.70 137.83,251.70 138.09,251.70 138.35,251.69 138.60,251.69 138.86,251.69 139.12,251.69 139.37,251.69 139.63,251.69 139.89,251.69 140.14,251.69 140.40,251.69 140.66,251.69 140.91,251.69 141.17,251.69 141.43,251.69 141.68,251.69 141.94,251.69 142.20,251.69 142.45,251.68 142.71,251.68 142.97,251.68 143.23,251.68 143.48,251.68 143.74,251.68 144.00,251.68 144.25,251.68 144.51,251.68 144.77,251.68 145.02,251.68 145.28,251.68 145.54,251.68 145.79,251.68 146.05,251.68 146.31,251.68 146.56,251.67 146.82,251.67 147.08,251.67 147.33,251.67 147.59,251.67 147.85,251.67 148.10,251.67 148.36,251.67 148.62,251.67 148.87,251.67 149.13,251.67 149.39,251.67 149.65,251.67 149.90,251.67 150.16,251.67 150.42,251.66 150.67,251.66 150.93,251.66 151.19,251.66 151.44,251.66 151.70,251.66 151.96,251.66 152.21,251.66 152.47,251.66 152.73,251.66 152.98,251.66 153.24,251.66 153.50,251.66 153.75,251.66 154.01,251.65 154.27,251.65 154.52,251.65 154.78,251.65 155.04,251.65 155.29,251.65 155.55,251.65 155.81,251.65 156.07,251.65 156.32,251.65 156.58,251.65 156.84,251.65 157.09,251.65 157.35,251.65 157.61,251.64 157.86,251.64 158.12,251.64 158.38,251.64 158.63,251.64 158.89,251.64 159.15,251.64 159.40,251.64 159.66,251.64 159.92,251.64 160.17,251.64 160.43,251.64 160.69,251.64 160.94,251.63 161.20,251.63 161.46,251.63 161.71,251.63 161.97,251.63 162.23,251.63 162.48,251.63 162.74,251.63 163.00,251.63 163.26,251.63 163.51,251.63 163.77,251.63 164.03,251.63 164.28,251.62 164.54,251.62 164.80,251.62 165.05,251.62 165.31,251.62 165.57,251.62 165.82,251.62 166.08,251.62 166.34,251.62 166.59,251.62 166.85,251.62 167.11,251.62 167.36,251.61 167.62,251.61 167.88,251.61 168.13,251.61 168.39,251.61 168.65,251.61 168.90,251.61 169.16,251.61 169.42,251.61 169.68,251.61 169.93,251.61 170.19,251.61 170.45,251.60 170.70,251.60 170.96,251.60 171.22,251.60 171.47,251.60 171.73,251.60 171.99,251.60 172.24,251.60 172.50,251.60 172.76,251.60 173.01,251.60 173.27,251.60 173.53,251.59 173.78,251.59 174.04,251.59 174.30,251.59 174.55,251.59 174.81,251.59 175.07,251.59 175.32,251.59 175.58,251.59 175.84,251.59 176.10,251.59 176.35,251.58 176.61,251.58 176.87,251.58 177.12,251.58 177.38,251.58 177.64,251.58 177.89,251.58 178.15,251.58 178.41,251.58 178.66,251.58 178.92,251.58 179.18,251.57 179.43,251.57 179.69,251.57 179.95,251.57 180.20,251.57 180.46,251.57 180.72,251.57 180.97,251.57 181.23,251.57 181.49,251.57 181.74,251.56 182.00,251.56 182.26,251.56 182.52,251.56 182.77,251.56 183.03,251.56 183.29,251.56 183.54,251.56 183.80,251.56 184.06,251.56 184.31,251.56 184.57,251.55 184.83,251.55 185.08,251.55 185.34,251.55 185.60,251.55 185.85,251.55 186.11,251.55 186.37,251.55 186.62,251.55 186.88,251.55 187.14,251.54 187.39,251.54 187.65,251.54 187.91,251.54 188.16,251.54 188.42,251.54 188.68,251.54 188.93,251.54 189.19,251.54 189.45,251.54 189.71,251.53 189.96,251.53 190.22,251.53 190.48,251.53 190.73,251.53 190.99,251.53 191.25,251.53 191.50,251.53 191.76,251.53 192.02,251.52 192.27,251.52 192.53,251.52 192.79,251.52 193.04,251.52 193.30,251.52 193.56,251.52 193.81,251.52 194.07,251.52 194.33,251.51 194.58,251.51 194.84,251.51 195.10,251.51 195.35,251.51 195.61,251.51 195.87,251.51 196.13,251.51 196.38,251.51 196.64,251.50 196.90,251.50 197.15,251.50 197.41,251.50 197.67,251.50 197.92,251.50 198.18,251.50 198.44,251.50 198.69,251.50 198.95,251.49 199.21,251.49 199.46,251.49 199.72,251.49 199.98,251.49 200.23,251.49 200.49,251.49 200.75,251.49 201.00,251.49 201.26,251.48 201.52,251.48 201.77,251.48 202.03,251.48 202.29,251.48 202.55,251.48 202.80,251.48 203.06,251.48 203.32,251.48 203.57,251.47 203.83,251.47 204.09,251.47 204.34,251.47 204.60,251.47 204.86,251.47 205.11,251.47 205.37,251.47 205.63,251.46 205.88,251.46 206.14,251.46 206.40,251.46 206.65,251.46 206.91,251.46 207.17,251.46 207.42,251.46 207.68,251.45 207.94,251.45 208.19,251.45 208.45,251.45 208.71,251.45 208.97,251.45 209.22,251.45 209.48,251.45 209.74,251.44 209.99,251.44 210.25,251.44 210.51,251.44 210.76,251.44 211.02,251.44 211.28,251.44 211.53,251.44 211.79,251.43 212.05,251.43 212.30,251.43 212.56,251.43 212.82,251.43 213.07,251.43 213.33,251.43 213.59,251.43 213.84,251.42 214.10,251.42 214.36,251.42 214.61,251.42 214.87,251.42 215.13,251.42 215.38,251.42 215.64,251.41 215.90,251.41 216.16,251.41 216.41,251.41 216.67,251.41 216.93,251.41 217.18,251.41 217.44,251.41 217.70,251.40 217.95,251.40 218.21,251.40 218.47,251.40 218.72,251.40 218.98,251.40 219.24,251.40 219.49,251.39 219.75,251.39 220.01,251.39 220.26,251.39 220.52,251.39 220.78,251.39 221.03,251.39 221.29,251.38 221.55,251.38 221.80,251.38 222.06,251.38 222.32,251.38 222.58,251.38 222.83,251.38 223.09,251.37 223.35,251.37 223.60,251.37 223.86,251.37 224.12,251.37 224.37,251.37 224.63,251.37 224.89,251.36 225.14,251.36 225.40,251.36 225.66,251.36 225.91,251.36 226.17,251.36 226.43,251.36 226.68,251.35 226.94,251.35 227.20,251.35 227.45,251.35 227.71,251.35 227.97,251.35 228.22,251.34 228.48,251.34 228.74,251.34 229.00,251.34 229.25,251.34 229.51,251.34 229.77,251.34 230.02,251.33 230.28,251.33 230.54,251.33 230.79,251.33 231.05,251.33 231.31,251.33 231.56,251.32 231.82,251.32 232.08,251.32 232.33,251.32 232.59,251.32 232.85,251.32 233.10,251.32 233.36,251.31 233.62,251.31 233.87,251.31 234.13,251.31 234.39,251.31 234.64,251.31 234.90,251.30 235.16,251.30 235.41,251.30 235.67,251.30 235.93,251.30 236.19,251.30 236.44,251.29 236.70,251.29 236.96,251.29 237.21,251.29 237.47,251.29 237.73,251.29 237.98,251.28 238.24,251.28 238.50,251.28 238.75,251.28 239.01,251.28 239.27,251.28 239.52,251.27 239.78,251.27 240.04,251.27 240.29,251.27 240.55,251.27 240.81,251.27 241.06,251.26 241.32,251.26 241.58,251.26 241.83,251.26 242.09,251.26 242.35,251.26 242.61,251.25 242.86,251.25 243.12,251.25 243.38,251.25 243.63,251.25 243.89,251.24 244.15,251.24 244.40,251.24 244.66,251.24 244.92,251.24 245.17,251.24 245.43,251.23 245.69,251.23 245.94,251.23 246.20,251.23 246.46,251.23 246.71,251.23 246.97,251.22 247.23,251.22 247.48,251.22 247.74,251.22 248.00,251.22 248.25,251.21 248.51,251.21 248.77,251.21 249.03,251.21 249.28,251.21 249.54,251.20 249.80,251.20 250.05,251.20 250.31,251.20 250.57,251.20 250.82,251.20 251.08,251.19 251.34,251.19 251.59,251.19 251.85,251.19 252.11,251.19 252.36,251.18 252.62,251.18 252.88,251.18 253.13,251.18 253.39,251.18 253.65,251.17 253.90,251.17 254.16,251.17 254.42,251.17 254.67,251.17 254.93,251.16 255.19,251.16 255.44,251.16 255.70,251.16 255.96,251.16 256.22,251.15 256.47,251.15 256.73,251.15 256.99,251.15 257.24,251.15 257.50,251.14 257.76,251.14 258.01,251.14 258.27,251.14 258.53,251.14 258.78,251.13 259.04,251.13 259.30,251.13 259.55,251.13 259.81,251.13 260.07,251.12 260.32,251.12 260.58,251.12 260.84,251.12 261.09,251.12 261.35,251.11 261.61,251.11 261.86,251.11 262.12,251.11 262.38,251.10 262.64,251.10 262.89,251.10 263.15,251.10 263.41,251.10 263.66,251.09 263.92,251.09 264.18,251.09 264.43,251.09 264.69,251.09 264.95,251.08 265.20,251.08 265.46,251.08 265.72,251.08 265.97,251.07 266.23,251.07 266.49,251.07 266.74,251.07 267.00,251.07 267.26,251.06 267.51,251.06 267.77,251.06 268.03,251.06 268.28,251.05 268.54,251.05 268.80,251.05 269.05,251.05 269.31,251.04 269.57,251.04 269.83,251.04 270.08,251.04 270.34,251.04 270.60,251.03 270.85,251.03 271.11,251.03 271.37,251.03 271.62,251.02 271.88,251.02 272.14,251.02 272.39,251.02 272.65,251.01 272.91,251.01 273.16,251.01 273.42,251.01 273.68,251.00 273.93,251.00 274.19,251.00 274.45,251.00 274.70,251.00 274.96,250.99 275.22,250.99 275.47,250.99 275.73,250.99 275.99,250.98 276.25,250.98 276.50,250.98 276.76,250.98 277.02,250.97 277.27,250.97 277.53,250.97 277.79,250.97 278.04,250.96 278.30,250.96 278.56,250.96 278.81,250.96 279.07,250.95 279.33,250.95 279.58,250.95 279.84,250.95 280.10,250.94 280.35,250.94 280.61,250.94 280.87,250.93 281.12,250.93 281.38,250.93 281.64,250.93 281.89,250.92 282.15,250.92 282.41,250.92 282.66,250.92 282.92,250.91 283.18,250.91 283.44,250.91 283.69,250.91 283.95,250.90 284.21,250.90 284.46,250.90 284.72,250.89 284.98,250.89 285.23,250.89 285.49,250.89 285.75,250.88 286.00,250.88 286.26,250.88 286.52,250.88 286.77,250.87 287.03,250.87 287.29,250.87 287.54,250.86 287.80,250.86 288.06,250.86 288.31,250.86 288.57,250.85 288.83,250.85 289.08,250.85 289.34,250.84 289.60,250.84 289.85,250.84 290.11,250.84 290.37,250.83 290.63,250.83 290.88,250.83 291.14,250.82 291.40,250.82 291.65,250.82 291.91,250.81 292.17,250.81 292.42,250.81 292.68,250.81 292.94,250.80 293.19,250.80 293.45,250.80 293.71,250.79 293.96,250.79 294.22,250.79 294.48,250.78 294.73,250.78 294.99,250.78 295.25,250.78 295.50,250.77 295.76,250.77 296.02,250.77 296.27,250.76 296.53,250.76 296.79,250.76 297.04,250.75 297.30,250.75 297.56,250.75 297.82,250.74 298.07,250.74 298.33,250.74 298.59,250.73 298.84,250.73 299.10,250.73 299.36,250.72 299.61,250.72 299.87,250.72 300.13,250.71 300.38,250.71 300.64,250.71 300.90,250.70 301.15,250.70 301.41,250.70 301.67,250.69 301.92,250.69 302.18,250.69 302.44,250.68 302.69,250.68 302.95,250.68 303.21,250.67 303.46,250.67 303.72,250.67 303.98,250.66 304.23,250.66 304.49,250.66 304.75,250.65 305.01,250.65 305.26,250.65 305.52,250.64 305.78,250.64 306.03,250.64 306.29,250.63 306.55,250.63 306.80,250.63 307.06,250.62 307.32,250.62 307.57,250.61 307.83,250.61 308.09,250.61 308.34,250.60 308.60,250.60" fill="none" stroke="none" marker-start="url(#m30)" marker-mid="url(#m30)" marker-end="url(#m30)"/>
</g>
<g>
<path d="M45.00,185.20 L46.71,185.19 L48.42,185.15 L50.14,185.10 L51.85,185.02 L53.56,184.92 L55.27,184.80 L56.98,184.66 L58.70,184.49 L60.41,184.30 L62.12,184.09 L63.83,183.85 L65.54,183.58 L67.26,183.29 L68.97,182.97 L70.68,182.62 L72.39,182.24 L74.10,181.83 L75.82,181.39 L77.53,180.92 L79.24,180.41 L80.95,179.86 L82.66,179.27 L84.38,178.64 L86.09,177.97 L87.80,177.24 L89.51,176.46 L91.22,175.63 L92.94,174.74 L94.65,173.78 L96.36,172.75 L98.07,171.64 L99.78,170.45 L101.50,169.16 L103.21,167.76 L104.92,166.24 L106.63,164.59 L108.34,162.78 L110.06,160.79 L111.77,158.60 L113.48,156.16 L115.19,153.44 L116.90,150.36 L117.77,148.65 L118.10,147.96 L118.43,147.26 L118.62,146.84 L118.76,146.53 L119.08,145.79 L119.41,145.02 L119.74,144.23 L120.07,143.42 L120.33,142.77 L120.40,142.58 L120.73,141.71 L121.06,140.81 L121.39,139.89 L121.72,138.93 L122.04,137.96 L122.05,137.93 L122.38,136.90 L122.71,135.83 L123.04,134.71 L123.36,133.55 L123.69,132.34 L123.75,132.12 L124.02,131.08 L124.35,129.75 L124.68,128.37 L125.01,126.91 L125.34,125.37 L125.46,124.77 L125.67,123.75 L126.00,122.04 L126.33,120.21 L126.66,118.26 L126.99,116.18 L127.18,114.90 L127.32,113.93 L127.64,111.50 L127.97,108.84 L128.30,105.91 L128.63,102.65 L128.89,99.82 L128.96,98.95 L129.29,94.67 L129.62,89.56 L129.95,83.12 L130.28,74.06 L130.55,60.23" stroke="#000" stroke-width="1.5" fill="none" stroke-linejoin="round"/>
<path d="M45.00,212.68 L46.71,212.67 L48.42,212.66 L50.14,212.64 L51.85,212.61 L53.56,212.58 L55.27,212.53 L56.98,212.48 L58.70,212.42 L60.41,212.36 L62.12,212.28 L63.83,212.19 L65.54,212.10 L67.26,212.00 L68.97,211.89 L70.68,211.77 L72.39,211.64 L74.10,211.50 L75.82,211.35 L77.53,211.19 L79.24,211.02 L80.95,210.83 L82.66,210.64 L84.38,210.44 L86.09,210.22 L87.80,209.99 L89.51,209.75 L91.22,209.49 L92.94,209.22 L94.65,208.94 L96.36,208.64 L98.07,208.32 L99.78,207.98 L101.50,207.63 L103.21,207.25 L104.92,206.86 L106.63,206.44 L108.34,206.00 L110.06,205.54 L111.77,205.05 L113.48,204.53 L115.19,203.97 L116.90,203.39 L118.62,202.77 L120.33,202.10 L122.04,201.40 L123.75,200.64 L125.46,199.83 L127.18,198.96 L128.89,198.03 L130.60,197.02 L132.31,195.93 L134.02,194.74 L135.74,193.44 L137.45,192.01 L139.16,190.42 L140.87,188.65 L141.06,188.44 L141.39,188.07 L141.72,187.69 L142.05,187.31 L142.38,186.91 L142.58,186.66 L142.71,186.50 L143.04,186.08 L143.37,185.65 L143.70,185.21 L144.03,184.76 L144.30,184.38 L144.36,184.29 L144.69,183.81 L145.01,183.32 L145.34,182.81 L145.67,182.28 L146.00,181.74 L146.01,181.73 L146.33,181.18 L146.66,180.60 L146.99,180.00 L147.32,179.37 L147.65,178.73 L147.72,178.58 L147.98,178.06 L148.31,177.36 L148.64,176.63 L148.97,175.87 L149.29,175.07 L149.43,174.73 L149.62,174.24 L149.95,173.36 L150.28,172.44 L150.61,171.46 L150.94,170.43 L151.14,169.76 L151.27,169.33 L151.60,168.16 L151.93,166.90 L152.26,165.54 L152.59,164.06 L152.86,162.74 L152.92,162.44 L153.25,160.63 L153.57,158.60 L153.90,156.26" stroke="#000" stroke-width="1.35" fill="none" stroke-linejoin="round"/>
<path d="M45.00,231.06 L46.71,231.06 L48.42,231.06 L50.14,231.05 L51.85,231.04 L53.56,231.03 L55.27,231.02 L56.98,231.00 L58.70,230.98 L60.41,230.96 L62.12,230.94 L63.83,230.91 L65.54,230.88 L67.26,230.85 L68.97,230.81 L70.68,230.78 L72.39,230.74 L74.10,230.69 L75.82,230.65 L77.53,230.60 L79.24,230.55 L80.95,230.49 L82.66,230.43 L84.38,230.37 L86.09,230.31 L87.80,230.24 L89.51,230.17 L91.22,230.09 L92.94,230.02 L94.65,229.93 L96.36,229.85 L98.07,229.76 L99.78,229.67 L101.50,229.57 L103.21,229.47 L104.92,229.36 L106.63,229.25 L108.34,229.14 L110.06,229.02 L111.77,228.89 L113.48,228.77 L115.19,228.63 L116.90,228.49 L118.62,228.34 L120.33,228.19 L122.04,228.03 L123.75,227.87 L125.46,227.70 L127.18,227.52 L128.89,227.33 L130.60,227.14 L132.31,226.93 L134.02,226.72 L135.74,226.50 L137.45,226.27 L139.16,226.03 L140.87,225.77 L142.58,225.51 L144.30,225.23 L146.01,224.94 L147.72,224.64 L149.43,224.31 L151.14,223.98 L152.86,223.62 L154.57,223.24 L156.28,222.85 L157.99,222.42 L159.70,221.98 L161.42,221.50 L163.13,220.99 L164.84,220.45 L166.55,219.87 L168.26,219.24 L169.98,218.56 L171.26,218.01 L171.59,217.86 L171.69,217.82 L171.92,217.72 L172.25,217.56 L172.58,217.41 L172.91,217.25 L173.24,217.09 L173.40,217.01 L173.56,216.93 L173.89,216.77 L174.22,216.60 L174.55,216.43 L174.88,216.25 L175.11,216.13 L175.21,216.07 L175.54,215.89 L175.87,215.70 L176.20,215.51 L176.53,215.32 L176.82,215.14 L176.86,215.12 L177.19,214.92 L177.52,214.71 L177.84,214.50 L178.17,214.28 L178.50,214.06 L178.54,214.04 L178.83,213.83 L179.16,213.60 L179.49,213.36 L179.82,213.12 L180.15,212.86 L180.25,212.79 L180.48,212.61 L180.81,212.34 L181.14,212.07 L181.47,211.79 L181.80,211.50 L181.96,211.35 L182.12,211.20 L182.45,210.89 L182.78,210.57 L183.11,210.24 L183.44,209.90 L183.67,209.65 L183.77,209.54 L184.10,209.18" stroke="#000" stroke-width="1.5" fill="none" stroke-linejoin="round"/>
<path d="M45.00,246.80 L46.71,246.80 L48.42,246.80 L50.14,246.79 L51.85,246.79 L53.56,246.79 L55.27,246.79 L56.98,246.79 L58.70,246.79 L60.41,246.78 L62.12,246.78 L63.83,246.78 L65.54,246.77 L67.26,246.77 L68.97,246.76 L70.68,246.76 L72.39,246.75 L74.10,246.75 L75.82,246.74 L77.53,246.73 L79.24,246.73 L80.95,246.72 L82.66,246.71 L84.38,246.71 L86.09,246.70 L87.80,246.69 L89.51,246.68 L91.22,246.67 L92.94,246.66 L94.65,246.65 L96.36,246.64 L98.07,246.63 L99.78,246.62 L101.50,246.61 L103.21,246.59 L104.92,246.58 L106.63,246.57 L108.34,246.56 L110.06,246.54 L111.77,246.53 L113.48,246.51 L115.19,246.50 L116.90,246.48 L118.62,246.47 L120.33,246.45 L122.04,246.43 L123.75,246.42 L125.46,246.40 L127.18,246.38 L128.89,246.36 L130.60,246.34 L132.31,246.32 L134.02,246.30 L135.74,246.28 L137.45,246.26 L139.16,246.24 L140.87,246.21 L142.58,246.19 L144.30,246.17 L146.01,246.14 L147.72,246.12 L149.43,246.09 L151.14,246.07 L152.86,246.04 L154.57,246.01 L156.28,245.98 L157.99,245.95 L159.70,245.92 L161.42,245.89 L163.13,245.86 L164.84,245.83 L166.55,245.80 L168.26,245.76 L169.98,245.73 L171.69,245.69 L173.40,245.66 L175.11,245.62 L176.82,245.58 L178.54,245.54 L180.25,245.50 L181.96,245.46 L183.67,245.42 L185.38,245.38 L187.10,245.33 L188.81,245.29 L190.52,245.24 L192.23,245.19 L193.94,245.14 L195.66,245.09 L197.37,245.04 L199.08,244.99 L200.79,244.93 L202.50,244.88 L204.22,244.82 L205.93,244.76 L207.64,244.70 L209.35,244.63 L211.06,244.57 L212.78,244.50 L214.49,244.43 L216.20,244.36 L217.91,244.29 L219.62,244.21 L221.34,244.13 L223.05,244.05 L224.76,243.97 L226.47,243.88 L228.18,243.79 L229.90,243.70 L231.61,243.60 L233.32,243.50 L235.03,243.40 L235.66,243.36 L235.99,243.34 L236.32,243.32 L236.65,243.30 L236.74,243.29 L236.98,243.27 L237.31,243.25 L237.64,243.23 L237.97,243.21 L238.29,243.19 L238.46,243.18 L238.62,243.17 L238.95,243.14 L239.28,243.12 L239.61,243.10 L239.94,243.08 L240.17,243.06 L240.27,243.05 L240.60,243.03 L240.93,243.01 L241.26,242.98 L241.59,242.96 L241.88,242.94 L241.92,242.93 L242.25,242.91 L242.57,242.89 L242.90,242.86 L243.23,242.84 L243.56,242.81 L243.59,242.81 L243.89,242.79 L244.22,242.76 L244.55,242.74 L244.88,242.71 L245.21,242.68 L245.30,242.68 L245.54,242.66 L245.87,242.63 L246.20,242.60 L246.53,242.58 L246.85,242.55 L247.02,242.54 L247.18,242.52 L247.51,242.49 L247.84,242.46 L248.17,242.44 L248.50,242.41" stroke="#000" stroke-width="1.45" fill="none" stroke-linejoin="round"/>
<path d="M45.00,252.15 L46.71,252.15 L48.42,252.15 L50.14,252.15 L51.85,252.15 L53.56,252.15 L55.27,252.15 L56.98,252.15 L58.70,252.15 L60.41,252.15 L62.12,252.14 L63.83,252.14 L65.54,252.14 L67.26,252.14 L68.97,252.14 L70.68,252.14 L72.39,252.14 L74.10,252.14 L75.82,252.14 L77.53,252.14 L79.24,252.13 L80.95,252.13 L82.66,252.13 L84.38,252.13 L86.09,252.13 L87.80,252.13 L89.51,252.13 L91.22,252.12 L92.94,252.12 L94.65,252.12 L96.36,252.12 L98.07,252.12 L99.78,252.11 L101.50,252.11 L103.21,252.11 L104.92,252.11 L106.63,252.10 L108.34,252.10 L110.06,252.10 L111.77,252.10 L113.48,252.09 L115.19,252.09 L116.90,252.09 L118.62,252.08 L120.33,252.08 L122.04,252.08 L123.75,252.08 L125.46,252.07 L127.18,252.07 L128.89,252.07 L130.60,252.06 L132.31,252.06 L134.02,252.05 L135.74,252.05 L137.45,252.05 L139.16,252.04 L140.87,252.04 L142.58,252.03 L144.30,252.03 L146.01,252.03 L147.72,252.02 L149.43,252.02 L151.14,252.01 L152.86,252.01 L154.57,252.00 L156.28,252.00 L157.99,251.99 L159.70,251.99 L161.42,251.98 L163.13,251.98 L164.84,251.97 L166.55,251.97 L168.26,251.96 L169.98,251.96 L171.69,251.95 L173.40,251.94 L175.11,251.94 L176.82,251.93 L178.54,251.93 L180.25,251.92 L181.96,251.91 L183.67,251.91 L185.38,251.90 L187.10,251.89 L188.81,251.89 L190.52,251.88 L192.23,251.87 L193.94,251.87 L195.66,251.86 L197.37,251.85 L199.08,251.84 L200.79,251.84 L202.50,251.83 L204.22,251.82 L205.93,251.81 L207.64,251.80 L209.35,251.80 L211.06,251.79 L212.78,251.78 L214.49,251.77 L216.20,251.76 L217.91,251.75 L219.62,251.74 L221.34,251.73 L223.05,251.72 L224.76,251.71 L226.47,251.70 L228.18,251.69 L229.90,251.68 L231.61,251.67 L233.32,251.66 L235.03,251.65 L236.74,251.64 L238.46,251.63 L240.17,251.62 L241.88,251.61 L243.59,251.60 L245.30,251.59 L247.02,251.57 L248.73,251.56 L250.44,251.55 L252.15,251.54 L253.86,251.52 L255.58,251.51 L257.29,251.50 L259.00,251.48 L260.71,251.47 L262.42,251.45 L264.14,251.44 L265.85,251.43 L267.56,251.41 L269.27,251.40 L270.98,251.38 L272.70,251.36 L274.41,251.35 L276.12,251.33 L277.83,251.32 L279.54,251.30 L281.26,251.28 L282.97,251.26 L284.68,251.25 L286.39,251.23 L288.10,251.21 L289.82,251.19 L291.53,251.17 L293.24,251.15 L294.95,251.13 L296.66,251.11 L297.06,251.10 L297.39,251.10 L297.72,251.10 L298.05,251.09 L298.38,251.09 L298.38,251.09 L298.71,251.08 L299.04,251.08 L299.37,251.07 L299.70,251.07 L300.03,251.07 L300.09,251.07 L300.36,251.06 L300.68,251.06 L301.01,251.05 L301.34,251.05 L301.67,251.04 L301.80,251.04 L302.00,251.04 L302.33,251.04 L302.66,251.03 L302.99,251.03 L303.32,251.02 L303.51,251.02 L303.65,251.02 L303.98,251.01 L304.31,251.01 L304.64,251.01 L304.96,251.00 L305.22,251.00 L305.29,251.00 L305.62,250.99 L305.95,250.99 L306.28,250.98 L306.61,250.98 L306.94,250.97 L306.94,250.97 L307.27,250.97 L307.60,250.96 L307.93,250.96 L308.26,250.95 L308.59,250.95 L308.65,250.95 L308.92,250.95 L309.24,250.94 L309.57,250.94 L309.90,250.93" stroke="#000" stroke-width="1.3" fill="none" stroke-linejoin="round"/>
<line x1="130.60" y1="60.23" x2="130.60" y2="258.0" stroke="#000" stroke-width="1.0"/>
<line x1="154.35" y1="156.26" x2="154.35" y2="258.0" stroke="#000" stroke-width="1.0"/>
<line x1="184.55" y1="209.18" x2="184.55" y2="258.0" stroke="#000" stroke-width="1.0"/>
<line x1="248.95" y1="242.41" x2="248.95" y2="258.0" stroke="#000" stroke-width="1.0"/>
<line x1="310.35" y1="250.93" x2="310.35" y2="258.0" stroke="#000" stroke-width="1.0"/>
</g>
<path d="M129.00,196.8H132.00M130.5,195.30V198.30" stroke="#b00030" stroke-width="1.0" fill="none" opacity="0.85"/><path d="M182.30,221.7H185.70M184.0,220.00V223.40" stroke="#00ff00" stroke-width="0.9" fill="none" opacity="1"/><path d="M152.40,167.3H155.80M154.1,165.60V169.00" stroke="#0000ff" stroke-width="0.9" fill="none" opacity="1"/><path d="M247.75,250.3H249.95M248.85,249.20V251.40" stroke="#ff00ff" stroke-width="0.9" fill="none" opacity="1"/>
<g stroke="#000" stroke-width="1.1" fill="none">
<rect x="45.0" y="48.5" width="299.60" height="209.50"/>
<line x1="45.0" y1="258.00" x2="52.0" y2="258.00"/>
<line x1="344.6" y1="258.00" x2="337.6" y2="258.00"/>
<line x1="45.0" y1="241.24" x2="48.6" y2="241.24"/>
<line x1="344.6" y1="241.24" x2="341.0" y2="241.24"/>
<line x1="45.0" y1="224.48" x2="52.0" y2="224.48"/>
<line x1="344.6" y1="224.48" x2="337.6" y2="224.48"/>
<line x1="45.0" y1="207.72" x2="48.6" y2="207.72"/>
<line x1="344.6" y1="207.72" x2="341.0" y2="207.72"/>
<line x1="45.0" y1="190.96" x2="52.0" y2="190.96"/>
<line x1="344.6" y1="190.96" x2="337.6" y2="190.96"/>
<line x1="45.0" y1="174.20" x2="48.6" y2="174.20"/>
<line x1="344.6" y1="174.20" x2="341.0" y2="174.20"/>
<line x1="45.0" y1="157.44" x2="52.0" y2="157.44"/>
<line x1="344.6" y1="157.44" x2="337.6" y2="157.44"/>
<line x1="45.0" y1="140.68" x2="48.6" y2="140.68"/>
<line x1="344.6" y1="140.68" x2="341.0" y2="140.68"/>
<line x1="45.0" y1="123.92" x2="52.0" y2="123.92"/>
<line x1="344.6" y1="123.92" x2="337.6" y2="123.92"/>
<line x1="45.0" y1="107.16" x2="48.6" y2="107.16"/>
<line x1="344.6" y1="107.16" x2="341.0" y2="107.16"/>
<line x1="45.0" y1="90.40" x2="52.0" y2="90.40"/>
<line x1="344.6" y1="90.40" x2="337.6" y2="90.40"/>
<line x1="45.0" y1="73.64" x2="48.6" y2="73.64"/>
<line x1="344.6" y1="73.64" x2="341.0" y2="73.64"/>
<line x1="45.0" y1="56.88" x2="52.0" y2="56.88"/>
<line x1="344.6" y1="56.88" x2="337.6" y2="56.88"/>
<line x1="45.00" y1="258.0" x2="45.00" y2="251.0"/>
<line x1="45.00" y1="48.5" x2="45.00" y2="55.5"/>
<line x1="87.80" y1="258.0" x2="87.80" y2="254.4"/>
<line x1="87.80" y1="48.5" x2="87.80" y2="52.1"/>
<line x1="130.60" y1="258.0" x2="130.60" y2="251.0"/>
<line x1="130.60" y1="48.5" x2="130.60" y2="55.5"/>
<line x1="173.40" y1="258.0" x2="173.40" y2="254.4"/>
<line x1="173.40" y1="48.5" x2="173.40" y2="52.1"/>
<line x1="216.20" y1="258.0" x2="216.20" y2="251.0"/>
<line x1="216.20" y1="48.5" x2="216.20" y2="55.5"/>
<line x1="259.00" y1="258.0" x2="259.00" y2="254.4"/>
<line x1="259.00" y1="48.5" x2="259.00" y2="52.1"/>
<line x1="301.80" y1="258.0" x2="301.80" y2="251.0"/>
<line x1="301.80" y1="48.5" x2="301.80" y2="55.5"/>
<line x1="344.60" y1="258.0" x2="344.60" y2="254.4"/>
<line x1="344.60" y1="48.5" x2="344.60" y2="52.1"/>
</g>
<line x1="43.6" y1="68.61" x2="47.0" y2="68.61" stroke="#ff0000" stroke-width="0.9"/><line x1="43.6" y1="146.71" x2="47.0" y2="146.71" stroke="#0000ff" stroke-width="0.9"/><line x1="43.6" y1="196.16" x2="47.0" y2="196.16" stroke="#00ff00" stroke-width="0.9"/><line x1="43.6" y1="235.88" x2="47.0" y2="235.88" stroke="#ff00ff" stroke-width="0.9"/>
<g font-size="14.9">
<text x="42.3" y="262.90" text-anchor="end">0</text>
<text x="42.3" y="229.38" text-anchor="end">20</text>
<text x="42.3" y="195.86" text-anchor="end">40</text>
<text x="42.3" y="162.34" text-anchor="end">60</text>
<text x="42.3" y="128.82" text-anchor="end">80</text>
<text x="42.3" y="95.30" text-anchor="end">100</text>
<text x="42.3" y="61.78" text-anchor="end">120</text>
<text x="45.00" y="271.2" text-anchor="middle">0</text>
<text x="131.10" y="271.2" text-anchor="middle">1</text>
<text x="216.20" y="271.2" text-anchor="middle">2</text>
<text x="301.80" y="271.2" text-anchor="middle">3</text>
</g>
<text x="137.1" y="74.6" font-size="12.6">t = 60 M</text><circle cx="185.2" cy="78.0" r="2.85" fill="none" stroke="#000" stroke-width="0.7"/><circle cx="185.2" cy="78.0" r="0.75" fill="#000"/>
<text x="158.5" y="165.0" font-size="12.6">t = 43 M</text><circle cx="205.7" cy="167.8" r="2.85" fill="none" stroke="#000" stroke-width="0.7"/><circle cx="205.7" cy="167.8" r="0.75" fill="#000"/>
<text x="188.9" y="212.0" font-size="12.6">t = 40 M</text><circle cx="236.0" cy="215.2" r="2.85" fill="none" stroke="#000" stroke-width="0.7"/><circle cx="236.0" cy="215.2" r="0.75" fill="#000"/>
<text x="224.6" y="237.6" font-size="12.6">t = 35 M</text><circle cx="272.1" cy="240.8" r="2.85" fill="none" stroke="#000" stroke-width="0.7"/><circle cx="272.1" cy="240.8" r="0.75" fill="#000"/>
<text x="287.4" y="245.9" font-size="12.6">t = 30 M</text><circle cx="334.9" cy="248.8" r="2.85" fill="none" stroke="#000" stroke-width="0.7"/><circle cx="334.9" cy="248.8" r="0.75" fill="#000"/>
<path d="M264.1,70.3 h5.9 M267.05,67.4 v5.9" stroke="#000" stroke-width="0.7" fill="none"/>
<line x1="258.3" y1="82.0" x2="275.8" y2="82.0" stroke="#000" stroke-width="1.1"/>
<text x="281.8" y="75" font-size="12.6">GR1D</text>
<text x="281.8" y="86" font-size="12.6">Exact</text>
<text x="143.9" y="293" font-size="18.6">Radius / 2M</text>
<circle cx="240.7" cy="296.9" r="4.25" fill="none" stroke="#000" stroke-width="0.9"/><circle cx="240.7" cy="296.9" r="1.15" fill="#000"/>
<text transform="translate(13.0,189.5) rotate(-90)" font-size="18.5">ρ<tspan dx="0.8"> [ρ</tspan><tspan dx="0.8">(t=0)]</tspan></text>
</svg>
</body></html>
